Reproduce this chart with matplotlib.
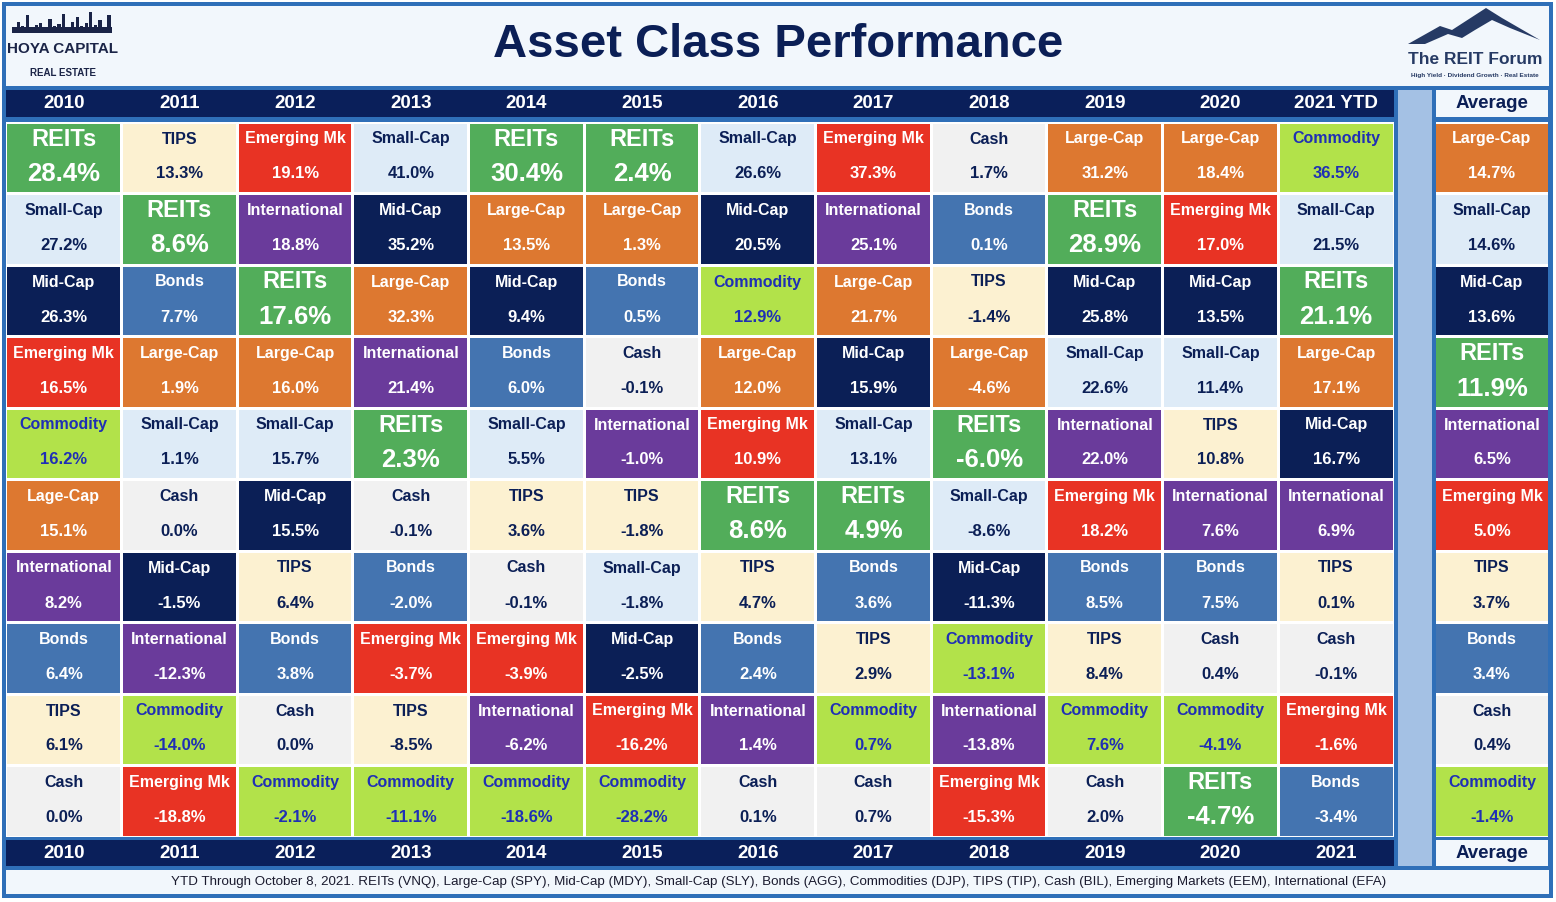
import matplotlib
matplotlib.use("Agg")
import matplotlib.pyplot as plt
from matplotlib.patches import Rectangle, Polygon

plt.rcParams['font.family'] = ['Liberation Sans', 'DejaVu Sans']

# datos
years = ["2010", "2011", "2012", "2013", "2014", "2015", "2016", "2017",
         "2018", "2019", "2020", "2021 YTD"]
bottom_years = ["2010", "2011", "2012", "2013", "2014", "2015", "2016", "2017",
                "2018", "2019", "2020", "2021"]

ranked_assets = [
    ["REITs", "Small-Cap", "Mid-Cap", "Emerging Mk", "Commodity", "Lage-Cap", "International", "Bonds", "TIPS", "Cash"],
    ["TIPS", "REITs", "Bonds", "Large-Cap", "Small-Cap", "Cash", "Mid-Cap", "International", "Commodity", "Emerging Mk"],
    ["Emerging Mk", "International", "REITs", "Large-Cap", "Small-Cap", "Mid-Cap", "TIPS", "Bonds", "Cash", "Commodity"],
    ["Small-Cap", "Mid-Cap", "Large-Cap", "International", "REITs", "Cash", "Bonds", "Emerging Mk", "TIPS", "Commodity"],
    ["REITs", "Large-Cap", "Mid-Cap", "Bonds", "Small-Cap", "TIPS", "Cash", "Emerging Mk", "International", "Commodity"],
    ["REITs", "Large-Cap", "Bonds", "Cash", "International", "TIPS", "Small-Cap", "Mid-Cap", "Emerging Mk", "Commodity"],
    ["Small-Cap", "Mid-Cap", "Commodity", "Large-Cap", "Emerging Mk", "REITs", "TIPS", "Bonds", "International", "Cash"],
    ["Emerging Mk", "International", "Large-Cap", "Mid-Cap", "Small-Cap", "REITs", "Bonds", "TIPS", "Commodity", "Cash"],
    ["Cash", "Bonds", "TIPS", "Large-Cap", "REITs", "Small-Cap", "Mid-Cap", "Commodity", "International", "Emerging Mk"],
    ["Large-Cap", "REITs", "Mid-Cap", "Small-Cap", "International", "Emerging Mk", "Bonds", "TIPS", "Commodity", "Cash"],
    ["Large-Cap", "Emerging Mk", "Mid-Cap", "Small-Cap", "TIPS", "International", "Bonds", "Cash", "Commodity", "REITs"],
    ["Commodity", "Small-Cap", "REITs", "Large-Cap", "Mid-Cap", "International", "TIPS", "Cash", "Emerging Mk", "Bonds"],
]
ranked_returns = [
    [28.4, 27.2, 26.3, 16.5, 16.2, 15.1, 8.2, 6.4, 6.1, 0.0],
    [13.3, 8.6, 7.7, 1.9, 1.1, 0.0, -1.5, -12.3, -14.0, -18.8],
    [19.1, 18.8, 17.6, 16.0, 15.7, 15.5, 6.4, 3.8, 0.0, -2.1],
    [41.0, 35.2, 32.3, 21.4, 2.3, -0.1, -2.0, -3.7, -8.5, -11.1],
    [30.4, 13.5, 9.4, 6.0, 5.5, 3.6, -0.1, -3.9, -6.2, -18.6],
    [2.4, 1.3, 0.5, -0.1, -1.0, -1.8, -1.8, -2.5, -16.2, -28.2],
    [26.6, 20.5, 12.9, 12.0, 10.9, 8.6, 4.7, 2.4, 1.4, 0.1],
    [37.3, 25.1, 21.7, 15.9, 13.1, 4.9, 3.6, 2.9, 0.7, 0.7],
    [1.7, 0.1, -1.4, -4.6, -6.0, -8.6, -11.3, -13.1, -13.8, -15.3],
    [31.2, 28.9, 25.8, 22.6, 22.0, 18.2, 8.5, 8.4, 7.6, 2.0],
    [18.4, 17.0, 13.5, 11.4, 10.8, 7.6, 7.5, 0.4, -4.1, -4.7],
    [36.5, 21.5, 21.1, 17.1, 16.7, 6.9, 0.1, -0.1, -1.6, -3.4],
]
avg_assets = ["Large-Cap", "Small-Cap", "Mid-Cap", "REITs", "International",
              "Emerging Mk", "TIPS", "Bonds", "Cash", "Commodity"]
avg_returns = [14.7, 14.6, 13.6, 11.9, 6.5, 5.0, 3.7, 3.4, 0.4, -1.4]

footnote = ("YTD Through October 8, 2021. REITs (VNQ), Large-Cap (SPY), Mid-Cap (MDY), "
            "Small-Cap (SLY), Bonds (AGG), Commodities (DJP), TIPS (TIP), Cash (BIL), "
            "Emerging Markets (EEM), International (EFA)")

# estilos (fondo, texto)
NAVY = "#0b1f56"
style = {
    "REITs": ("#52ad5a", "white"),
    "TIPS": ("#fcf1d1", NAVY),
    "Emerging Mk": ("#e83324", "white"),
    "Small-Cap": ("#deebf7", NAVY),
    "Mid-Cap": ("#0b1f56", "white"),
    "International": ("#6a3b9b", "white"),
    "Large-Cap": ("#dd7830", "white"),
    "Lage-Cap": ("#dd7830", "white"),
    "Bonds": ("#4474b0", "white"),
    "Cash": ("#f1f1f1", NAVY),
    "Commodity": ("#b2e24a", "#1f2fb5"),
}
FRAME = "#2f6fb8"
LIGHT = "#f2f7fc"
SEP = "#a4c1e4"

W, H = 1556, 902
fig = plt.figure(figsize=(W / 100, H / 100), dpi=100)
ax = fig.add_axes([0, 0, 1, 1])
ax.set_xlim(0, W)
ax.set_ylim(H, 0)
ax.axis("off")


def rect(x, y, w, h, color, z=1):
    ax.add_patch(Rectangle((x, y), w, h, facecolor=color, edgecolor="none", zorder=z))


# marco y zonas
rect(2, 2, 1551, 896, FRAME, 0)
rect(6, 6, 1543, 80, LIGHT)
rect(6, 870, 1543, 24, LIGHT)
rect(1398, 90, 34, 776, SEP)

tab_x0, tab_x1 = 6, 1394
body_y0, body_y1 = 122, 837
col_w = (tab_x1 - tab_x0) / len(years)
row_h = (body_y1 - body_y0) / len(avg_assets)
avg_x0, avg_w = 1436, 112
gap = 1.5

rect(tab_x0, body_y0, tab_x1 - tab_x0, body_y1 - body_y0, "white")
rect(avg_x0, body_y0, avg_w, body_y1 - body_y0, "white")

# filas de años
rect(tab_x0, 90, tab_x1 - tab_x0, 27, "#0a1f5a")
rect(tab_x0, 840, tab_x1 - tab_x0, 26, "#0a1f5a")
rect(avg_x0, 90, avg_w, 27, LIGHT)
rect(avg_x0, 840, avg_w, 26, LIGHT)
for i in range(len(years)):
    cx = tab_x0 + (i + 0.5) * col_w
    ax.text(cx, 104, years[i], color="white", fontsize=13.5, fontweight="bold",
            ha="center", va="center", zorder=3)
    ax.text(cx, 853.5, bottom_years[i], color="white", fontsize=13.5, fontweight="bold",
            ha="center", va="center", zorder=3)
ax.text(avg_x0 + avg_w / 2, 104, "Average", color=NAVY, fontsize=13.5,
        fontweight="bold", ha="center", va="center", zorder=3)
ax.text(avg_x0 + avg_w / 2, 853.5, "Average", color=NAVY, fontsize=13.5,
        fontweight="bold", ha="center", va="center", zorder=3)


def cell(x, w, row, name, value):
    y = body_y0 + row * row_h
    bg, fg = style[name]
    rect(x + gap, y + gap, w - 2 * gap, row_h - 2 * gap, bg, 2)
    cx = x + w / 2
    big = name == "REITs"
    ax.text(cx, y + 17, name, color=fg, fontsize=17 if big else 11.5,
            fontweight="bold", ha="center", va="center", zorder=3)
    ax.text(cx, y + 52, f"{value:.1f}%", color=fg, fontsize=18.5 if big else 12,
            fontweight="bold", ha="center", va="center", zorder=3)


for i in range(len(years)):
    for r in range(len(ranked_assets[i])):
        cell(tab_x0 + i * col_w, col_w, r, ranked_assets[i][r], ranked_returns[i][r])
for r in range(len(avg_assets)):
    cell(avg_x0 - gap, avg_w + 2 * gap, r, avg_assets[r], avg_returns[r])

# título
ax.text(778, 45, "Asset Class Performance", color=NAVY, fontsize=34,
        fontweight="bold", ha="center", va="center", zorder=3)

# pie
ax.text(779, 882, footnote, color="#1a1a2e", fontsize=9.6,
        ha="center", va="center", zorder=3)

# logo Hoya Capital (silueta simple)
sky_heights = [6, 14, 9, 22, 8, 10, 12, 7, 18, 9, 11, 24, 8, 14, 20, 9, 12, 26, 10, 16, 8, 22]
bx = 12
bw = 100 / len(sky_heights)
for hgt in sky_heights:
    rect(bx, 33 - hgt * 0.8, bw * 0.7, hgt * 0.8, "#1b2447", 3)
    bx += bw
rect(12, 27, 100, 6, "#1b2447", 3)
ax.text(63, 49, "HOYA CAPITAL", color="#1b2447", fontsize=11, fontweight="bold",
        ha="center", va="center", zorder=3)
ax.text(63, 73, "REAL ESTATE", color="#1b2447", fontsize=7, fontweight="bold",
        ha="center", va="center", zorder=3)

# logo The REIT Forum
ax.add_patch(Polygon([(1408, 44), (1440, 26), (1452, 30), (1486, 8), (1502, 18),
                      (1540, 40), (1520, 32), (1510, 28), (1492, 20), (1475, 30),
                      (1462, 38), (1448, 34), (1425, 44)],
                     closed=True, facecolor="#263a64", edgecolor="none", zorder=3))
ax.text(1475, 59, "The REIT Forum", color="#263a64", fontsize=12.5, fontweight="bold",
        ha="center", va="center", zorder=3)
ax.text(1475, 76, "High Yield · Dividend Growth · Real Estate", color="#263a64",
        fontsize=4.6, fontweight="bold", ha="center", va="center", zorder=3)

fig.savefig("out.png", dpi=100)
